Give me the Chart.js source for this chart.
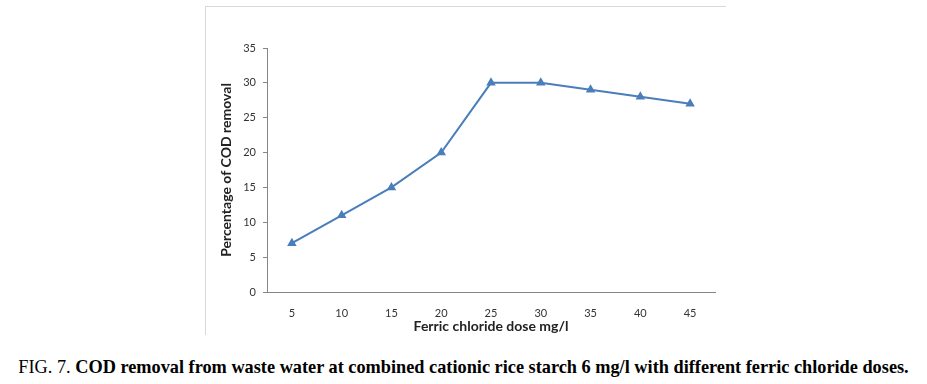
<!DOCTYPE html>
<html>
<head>
<meta charset="utf-8">
<script src="https://cdn.jsdelivr.net/npm/chart.js"></script>
<style>
  body { margin: 0; background: #fff; width: 927px; height: 384px; position: relative; overflow: hidden; }
  #frame { position: absolute; left: 205px; top: 6px; width: 520px; height: 328px;
           border-top: 1px solid #d9d9d9; border-left: 1px solid #d9d9d9; }
  #caption { position: absolute; left: 0; width: 927px; top: 357px; text-align: center;
             font-family: "Liberation Serif", serif; font-size: 18.3px; color: #000; white-space: nowrap; }
</style>
</head>
<body>
<div id="frame"><canvas id="cod-chart" width="520" height="328"></canvas></div>
<div id="caption">FIG. 7. <b>COD removal from waste water at combined cationic rice starch 6 mg/l with different ferric chloride doses.</b></div>
<script>
const doses = ['5', '10', '15', '20', '25', '30', '35', '40', '45'];
const codRemoval = [7, 11, 15, 20, 30, 30, 29, 28, 27];

const ctx = document.getElementById('cod-chart').getContext('2d');
const codChart = new Chart(ctx, {
    type: 'line',
    data: {
        labels: doses,
        datasets: [{
            label: 'COD removal',
            data: codRemoval,
            borderColor: '#4a7ebb',
            backgroundColor: '#4a7ebb',
            borderWidth: 2,
            pointStyle: 'triangle',
            pointRadius: 3.5,
            tension: 0
        }]
    },
    options: {
        responsive: false,
        animation: false,
        layout: { padding: { top: 41, right: 11, left: 0, bottom: 0 } },
        plugins: { legend: { display: false }, tooltip: { enabled: false } },
        scales: {
            x: {
                offset: true,
                grid: { display: false, drawTicks: false },
                border: { color: '#868686', width: 1 },
                ticks: { color: '#333', font: { family: 'Lato', size: 11 }, padding: 15 },
                title: { display: true, text: 'Ferric chloride dose mg/l', color: '#222',
                         font: { family: 'Lato', size: 14, weight: 'bold' }, padding: 0 },
                afterFit: s => { s.height = 43; }
            },
            y: {
                min: 0, max: 35,
                ticks: { stepSize: 5, color: '#333', font: { family: 'Lato', size: 11 }, padding: 7 },
                grid: { drawOnChartArea: false, tickLength: 4, color: '#868686' },
                border: { color: '#868686', width: 1 },
                title: { display: true, text: 'Percentage of COD removal', color: '#222',
                         font: { family: 'Lato', size: 14, weight: 'bold' }, padding: { top: 12, bottom: 0 } },
                afterFit: s => { s.width = 61; }
            }
        }
    }
});
</script>
</body>
</html>
